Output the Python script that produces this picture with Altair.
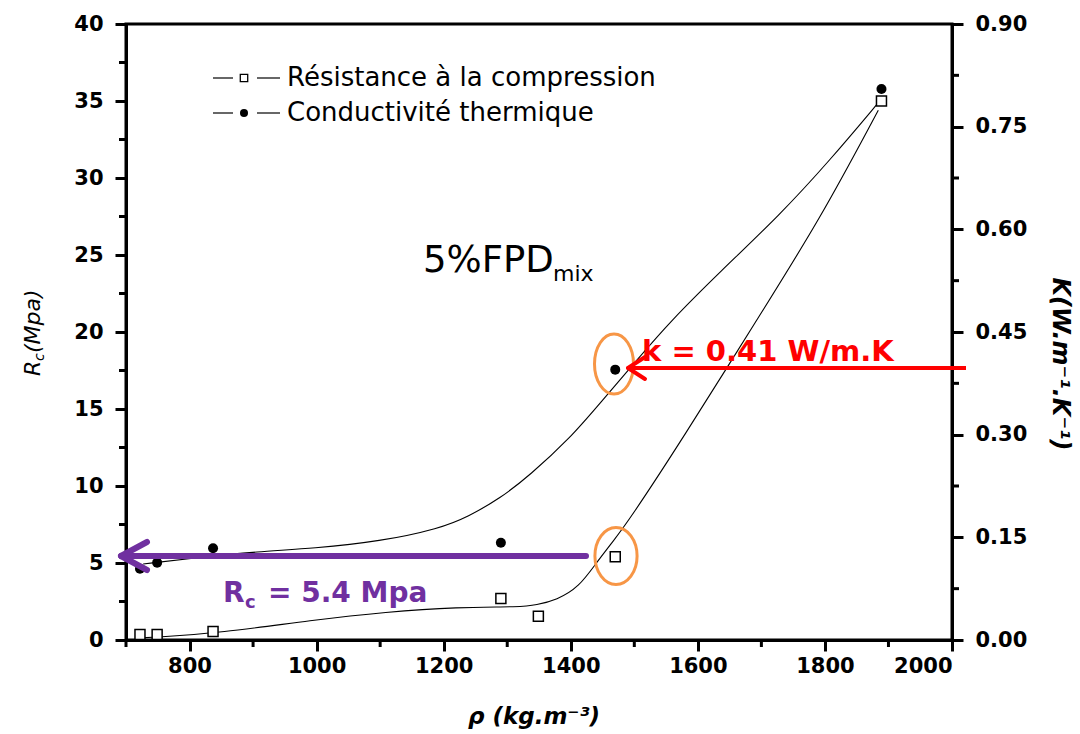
import altair as alt
import pandas as pd

# ---------------- data ----------------
# Résistance à la compression (Rc, MPa) vs density
rho_rc = [722, 749, 837, 1290, 1349, 1470, 1889]
rc_vals = [0.35, 0.35, 0.55, 2.7, 1.55, 5.4, 35.0]
# Conductivité thermique (k, W/m.K) vs density
rho_k = [722, 749, 837, 1290, 1470, 1889]
k_vals = [0.104, 0.113, 0.134, 0.142, 0.395, 0.805]

# smooth fitted curves
curve_rc_rho = [716, 754, 845, 996, 1109, 1221, 1322, 1345, 1378, 1413, 1440, 1468, 1492, 1575, 1693, 1792, 1884]
curve_rc = [0.13, 0.19, 0.45, 1.30, 1.82, 2.14, 2.14, 2.27, 2.60, 3.44, 5.0, 6.49, 7.79, 13.0, 20.8, 27.3, 34.4]
curve_k_rho = [727, 817, 906, 996, 1100, 1194, 1238, 1289, 1336, 1399, 1446, 1504, 1556, 1635, 1729, 1808, 1884]
curve_k = [0.111, 0.121, 0.129, 0.134, 0.144, 0.163, 0.180, 0.207, 0.241, 0.295, 0.346, 0.409, 0.465, 0.538, 0.621, 0.701, 0.785]

# axis ticks
x_major = [800, 1000, 1200, 1400, 1600, 1800, 2000]
x_minor = [700, 900, 1100, 1300, 1500, 1700, 1900]
rc_major = [0, 5, 10, 15, 20, 25, 30, 35, 40]
rc_minor = [2.5, 7.5, 12.5, 17.5, 22.5, 27.5, 32.5, 37.5]
k_major = [0.0, 0.15, 0.30, 0.45, 0.60, 0.75, 0.90]
k_minor = [0.075, 0.225, 0.375, 0.525, 0.675, 0.825]

# texts
legend_labels = ["Résistance à la compression", "Conductivité thermique"]
panel_label = ["5%FPD", "mix"]
k_note = ["k = 0.41 W/m.K"]
rc_note = ["R", "c", "= 5.4 Mpa"]
x_title = ["ρ (kg.m⁻³)"]
y_left_title = ["R", "c", "(Mpa)"]
y_right_title = ["K(W.m⁻¹.K⁻¹)"]

# ---------------- styling ----------------
W, H = 826, 616
FONT = "DejaVu Sans"
PURPLE = "#7030A0"
RED = "#FF0000"
ORANGE = "#F79646"

xscale = alt.Scale(domain=[700, 2000], nice=False, zero=False)
rc_scale = alt.Scale(domain=[0, 40], nice=False, zero=False)
k_scale = alt.Scale(domain=[0, 0.9], nice=False, zero=False)

x_axis = alt.Axis(values=x_major, title=None, format="d", orient="bottom",
                  labelPadding=4, grid=False)


def X(field="rho"):
    return alt.X(f"{field}:Q", scale=xscale, axis=x_axis)


def one():
    return pd.DataFrame({"a": [0]})


df_rc = pd.DataFrame({"rho": rho_rc, "v": rc_vals})
df_k = pd.DataFrame({"rho": rho_k, "v": k_vals})
df_crc = pd.DataFrame({"rho": curve_rc_rho, "v": curve_rc})
df_ck = pd.DataFrame({"rho": curve_k_rho, "v": curve_k})

rc_line = alt.Chart(df_crc).mark_line(color="black", strokeWidth=1.1, interpolate="basis").encode(
    x=X(),
    y=alt.Y("v:Q", scale=rc_scale,
            axis=alt.Axis(orient="left", values=rc_major, title=None, format="d",
                          labelPadding=12, grid=False)),
)
rc_pts = alt.Chart(df_rc).mark_point(shape="square", filled=True, fill="white", stroke="black",
                                      strokeWidth=1.5, size=100, opacity=1).encode(
    x=X(), y=alt.Y("v:Q", scale=rc_scale, axis=None))

k_line = alt.Chart(df_ck).mark_line(color="black", strokeWidth=1.1, interpolate="basis").encode(
    x=X(),
    y=alt.Y("v:Q", scale=k_scale,
            axis=alt.Axis(orient="right", values=k_major, title=None, format=".2f",
                          labelPadding=12, grid=False)),
)
k_pts = alt.Chart(df_k).mark_point(shape="circle", filled=True, color="black", size=100, opacity=1).encode(
    x=X(), y=alt.Y("v:Q", scale=k_scale, axis=None))

# minor ticks
rc_min = alt.Chart(pd.DataFrame({"v": rc_minor})).mark_rule(color="black", strokeWidth=3).encode(
    y=alt.Y("v:Q", scale=rc_scale, axis=None), x=alt.value(-7), x2=alt.value(0))
k_min = alt.Chart(pd.DataFrame({"v": k_minor})).mark_rule(color="black", strokeWidth=3).encode(
    y=alt.Y("v:Q", scale=k_scale, axis=None), x=alt.value(W), x2=alt.value(W + 7))
x_min = alt.Chart(pd.DataFrame({"rho": x_minor})).mark_rule(color="black", strokeWidth=3).encode(
    x=X(), y=alt.value(H), y2=alt.value(H + 7))

layers = [rc_line, k_line, rc_pts, k_pts, rc_min, k_min, x_min]

# legend
for i, (lab, sym) in enumerate(zip(legend_labels, ["square", "circle"])):
    yy = 54 + 35 * i
    for (a, b) in [(87, 107), (131, 154)]:
        layers.append(alt.Chart(one()).mark_rule(color="black", strokeWidth=1.2).encode(
            x=alt.value(a), x2=alt.value(b), y=alt.value(yy)))
    if sym == "square":
        layers.append(alt.Chart(one()).mark_point(shape="square", filled=True, fill="white",
                                                   stroke="black", strokeWidth=1.3, size=55, opacity=1).encode(
            x=alt.value(118), y=alt.value(yy)))
    else:
        layers.append(alt.Chart(one()).mark_point(shape="circle", filled=True, color="black",
                                                   size=64, opacity=1).encode(
            x=alt.value(118), y=alt.value(yy)))
    layers.append(alt.Chart(pd.DataFrame({"t": [lab]})).mark_text(
        font=FONT, fontSize=26, align="left", baseline="middle", color="black").encode(
        text="t:N", x=alt.value(161), y=alt.value(yy)))

# panel label 5%FPDmix
layers.append(alt.Chart(pd.DataFrame({"t": [panel_label[0]]})).mark_text(
    font=FONT, fontSize=37, align="left", baseline="alphabetic", color="black").encode(
    text="t:N", x=alt.value(297), y=alt.value(248)))
layers.append(alt.Chart(pd.DataFrame({"t": [panel_label[1]]})).mark_text(
    font=FONT, fontSize=22, align="left", baseline="alphabetic", color="black").encode(
    text="t:N", x=alt.value(427), y=alt.value(257)))

# orange ellipses
ellipse = "M -0.65 0 A 0.65 1 0 1 0 0.65 0 A 0.65 1 0 1 0 -0.65 0"
ellipse2 = "M -0.74 0 A 0.74 1 0 1 0 0.74 0 A 0.74 1 0 1 0 -0.74 0"
layers.append(alt.Chart(one()).mark_point(shape=ellipse, filled=False, color=ORANGE, strokeWidth=3,
                                           size=3600, opacity=1).encode(x=alt.value(488), y=alt.value(340)))
layers.append(alt.Chart(one()).mark_point(shape=ellipse2, filled=False, color=ORANGE, strokeWidth=3,
                                           size=3250, opacity=1).encode(x=alt.value(490), y=alt.value(532)))

# red arrow
layers.append(alt.Chart(one()).mark_rule(color=RED, strokeWidth=4).encode(
    x=alt.value(503), x2=alt.value(840), y=alt.value(344)))
for dy in (-11, 11):
    layers.append(alt.Chart(one()).mark_rule(color=RED, strokeWidth=4, strokeCap="round").encode(
        x=alt.value(502), x2=alt.value(519), y=alt.value(344), y2=alt.value(344 + dy)))
layers.append(alt.Chart(pd.DataFrame({"t": k_note})).mark_text(
    font=FONT, fontSize=29, fontWeight="bold", align="left", baseline="middle", color=RED).encode(
    text="t:N", x=alt.value(516), y=alt.value(328)))

# purple arrow
layers.append(alt.Chart(one()).mark_rule(color=PURPLE, strokeWidth=6, strokeCap="round").encode(
    x=alt.value(-4), x2=alt.value(460), y=alt.value(532)))
for dy in (-14, 14):
    layers.append(alt.Chart(one()).mark_rule(color=PURPLE, strokeWidth=6, strokeCap="round").encode(
        x=alt.value(-5), x2=alt.value(21), y=alt.value(532), y2=alt.value(532 + dy)))
for t, xx, yy, fs in [(rc_note[0], 97, 578, 28), (rc_note[1], 119, 584, 18), (rc_note[2], 142, 578, 28)]:
    layers.append(alt.Chart(pd.DataFrame({"t": [t]})).mark_text(
        font=FONT, fontSize=fs, fontWeight="bold", align="left", baseline="alphabetic", color=PURPLE).encode(
        text="t:N", x=alt.value(xx), y=alt.value(yy)))

# axis titles
layers.append(alt.Chart(pd.DataFrame({"t": x_title})).mark_text(
    font=FONT, fontSize=23, fontWeight="bold", fontStyle="italic", align="center", baseline="middle",
    color="black").encode(text="t:N", x=alt.value(408), y=alt.value(693)))
layers.append(alt.Chart(pd.DataFrame({"t": y_right_title})).mark_text(
    font=FONT, fontSize=24, fontWeight="bold", fontStyle="italic", align="center", baseline="middle",
    angle=90, color="black").encode(text="t:N", x=alt.value(934), y=alt.value(340)))
for t, xx, yy, fs in [(y_left_title[0], -86, 352, 22), (y_left_title[1], -82, 337, 14), (y_left_title[2], -86, 329, 22)]:
    layers.append(alt.Chart(pd.DataFrame({"t": [t]})).mark_text(
        font=FONT, fontSize=fs, fontStyle="italic", align="left", baseline="alphabetic",
        angle=270, color="black").encode(text="t:N", x=alt.value(xx), y=alt.value(yy)))

chart = alt.layer(*layers).resolve_scale(y="independent").properties(
    width=W, height=H,
    background="white",
    padding={"left": 126, "top": 24, "right": 128, "bottom": 94},
    autosize=alt.AutoSizeParams(type="none"),
).configure_view(stroke="black", strokeWidth=3).configure_axis(
    labelFont=FONT, labelFontSize=21, labelFontWeight="bold", labelColor="black",
    domainColor="black", domainWidth=3, tickColor="black", tickWidth=3, tickSize=11,
)

chart.save("out.html", embed_options={"renderer": "svg", "actions": False})
